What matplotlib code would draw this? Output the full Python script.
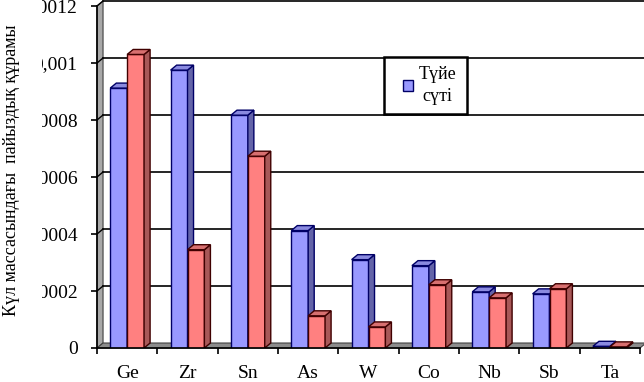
import numpy as np
import matplotlib
matplotlib.use('Agg')
import matplotlib.pyplot as plt
from matplotlib.patches import Polygon, Rectangle
from matplotlib.transforms import Bbox, TransformedBbox

plt.rcParams['font.family'] = ['Liberation Serif', 'DejaVu Serif']

# данные
elements = ['Ge', 'Zr', 'Sn', 'As', 'W', 'Co', 'Nb', 'Sb', 'Ta']
tuie_suti = [0.000912, 0.000975, 0.000817, 0.000412, 0.00031, 0.000289, 0.000197, 0.00019, 0.000006]
seriia2 = [0.00103, 0.000345, 0.000673, 0.000113, 0.000074, 0.000222, 0.000176, 0.000208, 0.000004]
yticks = [0, 0.0002, 0.0004, 0.0006, 0.0008, 0.001, 0.0012]
ytick_labels = ['0', '0,0002', '0,0004', '0,0006', '0,0008', '0,001', '0,0012']
legend_label = 'Түйе\nсүті'
ylabel = 'Күл массасындағы  пайыздық құрамы'

# colores
blue_front, blue_side, blue_top, blue_edge = '#9999FF', '#6464A8', '#8A8AE0', '#000066'
red_front, red_side, red_top, red_edge = '#FF8080', '#A85858', '#D87070', '#400000'

fig = plt.figure(figsize=(6.44, 3.82), dpi=100)
ax = fig.add_axes([97/644, 34/382, 543/644, 342/382])

ymax = 0.0012
ax.set_xlim(-0.5, 8.5)
ax.set_ylim(0, ymax)

# profundidad 3D (en unidades de datos)
dx = 0.1
dy = 0.0000175
w = 0.28

x = np.arange(len(elements))

# pared izquierda
ax.add_patch(Polygon([(-0.5, 0), (-0.5 + dx, dy), (-0.5 + dx, ymax + dy), (-0.5, ymax)],
                     closed=True, facecolor='#A8A8A8', edgecolor='#404040', lw=0.8,
                     zorder=1, clip_on=False))
# suelo
ax.add_patch(Polygon([(-0.5, 0), (8.5, 0), (8.5 + dx, dy), (-0.5 + dx, dy)],
                     closed=True, facecolor='#8C8C8C', edgecolor='#404040', lw=0.8,
                     zorder=1, clip_on=False))

# líneas de la pared del fondo
for v in yticks[1:]:
    ax.plot([-0.5 + dx, 8.5 + dx], [v + dy, v + dy], color='black', lw=1.2, zorder=1.5, clip_on=False)
    ax.plot([-0.5, -0.5 + dx], [v, v + dy], color='black', lw=1.0, zorder=1.5, clip_on=False)


def bar3d(xs, hs, front, side, top, edge, label=None):
    bars = ax.bar(xs, hs, width=w, align='edge', color=front, edgecolor=edge, lw=1.0, zorder=3, label=label)
    for x0, h in zip(xs, hs):
        ax.add_patch(Polygon([(x0 + w, 0), (x0 + w + dx, dy), (x0 + w + dx, h + dy), (x0 + w, h)],
                             closed=True, facecolor=side, edgecolor=edge, lw=1.0, zorder=3))
        ax.add_patch(Polygon([(x0, h), (x0 + dx, h + dy), (x0 + w + dx, h + dy), (x0 + w, h)],
                             closed=True, facecolor=top, edgecolor=edge, lw=1.0, zorder=3))
    return bars


blue_bars = bar3d(x - w, tuie_suti, blue_front, blue_side, blue_top, blue_edge, label=legend_label)
bar3d(x, seriia2, red_front, red_side, red_top, red_edge)

# ejes
for s in ['top', 'right']:
    ax.spines[s].set_visible(False)
ax.spines['left'].set_linewidth(1.2)
ax.spines['bottom'].set_linewidth(1.2)
ax.spines['left'].set_zorder(4)
ax.spines['bottom'].set_zorder(4)

ax.set_xticks(np.arange(-0.5, 9.0, 1.0))
ax.set_xticklabels([])
ax.set_xticks(x, minor=True)
ax.set_xticklabels(elements, minor=True, fontsize=14)
ax.tick_params(axis='x', which='major', length=4, width=1.2, direction='out')
ax.tick_params(axis='x', which='minor', length=0, pad=12)

ax.set_yticks(yticks)
ax.set_yticklabels(ytick_labels, fontsize=14)
ax.tick_params(axis='y', length=4, width=1.2, direction='out', pad=10)

# las etiquetas del eje y quedan recortadas a la izquierda, como en el original
clip = TransformedBbox(Bbox([[42/644, 0], [1, 1]]), fig.transFigure)
for lbl in ax.get_yticklabels():
    lbl.set_clip_box(clip)
    lbl.set_clip_on(True)

fig.text(12/644, 0.555, ylabel, rotation=90, ha='center', va='center', fontsize=13)

# leyenda: marco aparte y contenido centrado
lx0, ly0, lw_, lh_ = 0.528, 0.684, 0.153, 0.167
ax.add_patch(Rectangle((lx0, ly0), lw_, lh_, transform=ax.transAxes, facecolor='white',
                       edgecolor='black', lw=1.8, zorder=5, clip_on=False))
leg = ax.legend(handles=[blue_bars], labels=[legend_label], loc='center',
                bbox_to_anchor=(lx0 + lw_ / 2 + 0.008, ly0 + lh_ / 2), frameon=False,
                fontsize=13, handlelength=0.6, handleheight=0.6,
                handletextpad=0.3, borderpad=0.2, borderaxespad=0)
leg.set_zorder(6)
for t in leg.get_texts():
    t.set_multialignment('center')
    t.set_linespacing(1.45)

fig.savefig('out.png', dpi=100)
